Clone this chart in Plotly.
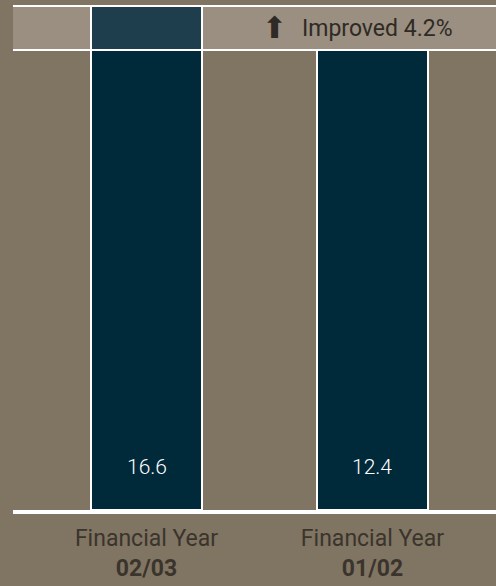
import plotly.graph_objects as go

# ---- data ----
years = ["02/03", "01/02"]
axis_title = "Financial Year"
values = [16.6, 12.4]
prior_value = values[1]
improvement = round(values[0] - values[1], 1)

# ---- styles ----
BG = "#807562"
BAND = "#9a8f80"
BAR = "#00293a"
BAR_TOP = "#1e3d4d"
TXT = "#2f2a25"
FONT = "Roboto, Lato, sans-serif"

y_max = prior_value / 0.9127

base_part = [min(v, prior_value) for v in values]
top_part = [max(v - prior_value, 0) for v in values]

fig = go.Figure()
fig.add_trace(go.Bar(
    x=years, y=base_part, width=0.49,
    marker=dict(color=BAR, line=dict(color="white", width=2)),
    hoverinfo="skip", showlegend=False,
))
fig.add_trace(go.Bar(
    x=years, y=top_part, width=0.49,
    marker=dict(color=BAR_TOP, line=dict(color="white", width=2)),
    hoverinfo="skip", showlegend=False,
))

# value labels at the bottom of the bars
for yr, v in zip(years, values):
    fig.add_annotation(x=yr, y=0, yref="y", text=f"{v}", showarrow=False,
                       yanchor="middle", yshift=43,
                       font=dict(family=FONT, size=21, color="white", weight=300))

# improvement band
fig.add_shape(type="rect", xref="paper", x0=0, x1=1, yref="y",
              y0=prior_value, y1=y_max, fillcolor=BAND, line_width=0,
              layer="below")
fig.add_shape(type="line", xref="paper", x0=0, x1=1, yref="y",
              y0=prior_value, y1=prior_value,
              line=dict(color="white", width=2), layer="above")
fig.add_shape(type="line", xref="paper", x0=0, x1=1, yref="paper",
              y0=1, y1=1, line=dict(color="white", width=2), layer="above")

fig.add_annotation(xref="paper", yref="paper", x=0.5405, y=0.957,
                   text="⬆", showarrow=False, xanchor="center", yanchor="middle",
                   font=dict(family="DejaVu Sans", size=30, color=TXT))
fig.add_annotation(xref="paper", yref="paper", x=0.594, y=0.956,
                   text=f"Improved {improvement}%", showarrow=False,
                   xanchor="left", yanchor="middle",
                   font=dict(family=FONT, size=23, color=TXT))

fig.update_layout(
    barmode="stack",
    width=496, height=586,
    margin=dict(l=13, r=0, t=6, b=76),
    paper_bgcolor=BG, plot_bgcolor=BG,
    font=dict(family=FONT, color="#3b342d"),
    bargap=0,
)
fig.update_xaxes(
    range=[-0.5907, 1.5465],
    tickvals=years,
    ticktext=[f"{axis_title}<br><b>{y}</b>" for y in years],
    tickfont=dict(family=FONT, size=23, color="#3b342d"),
    ticklabelstandoff=4,
    showline=True, linecolor="white", linewidth=4,
    showgrid=False, zeroline=False, ticks="",
)
fig.update_yaxes(range=[0, y_max], visible=False, showgrid=False, zeroline=False)

fig.write_html("out.html")
